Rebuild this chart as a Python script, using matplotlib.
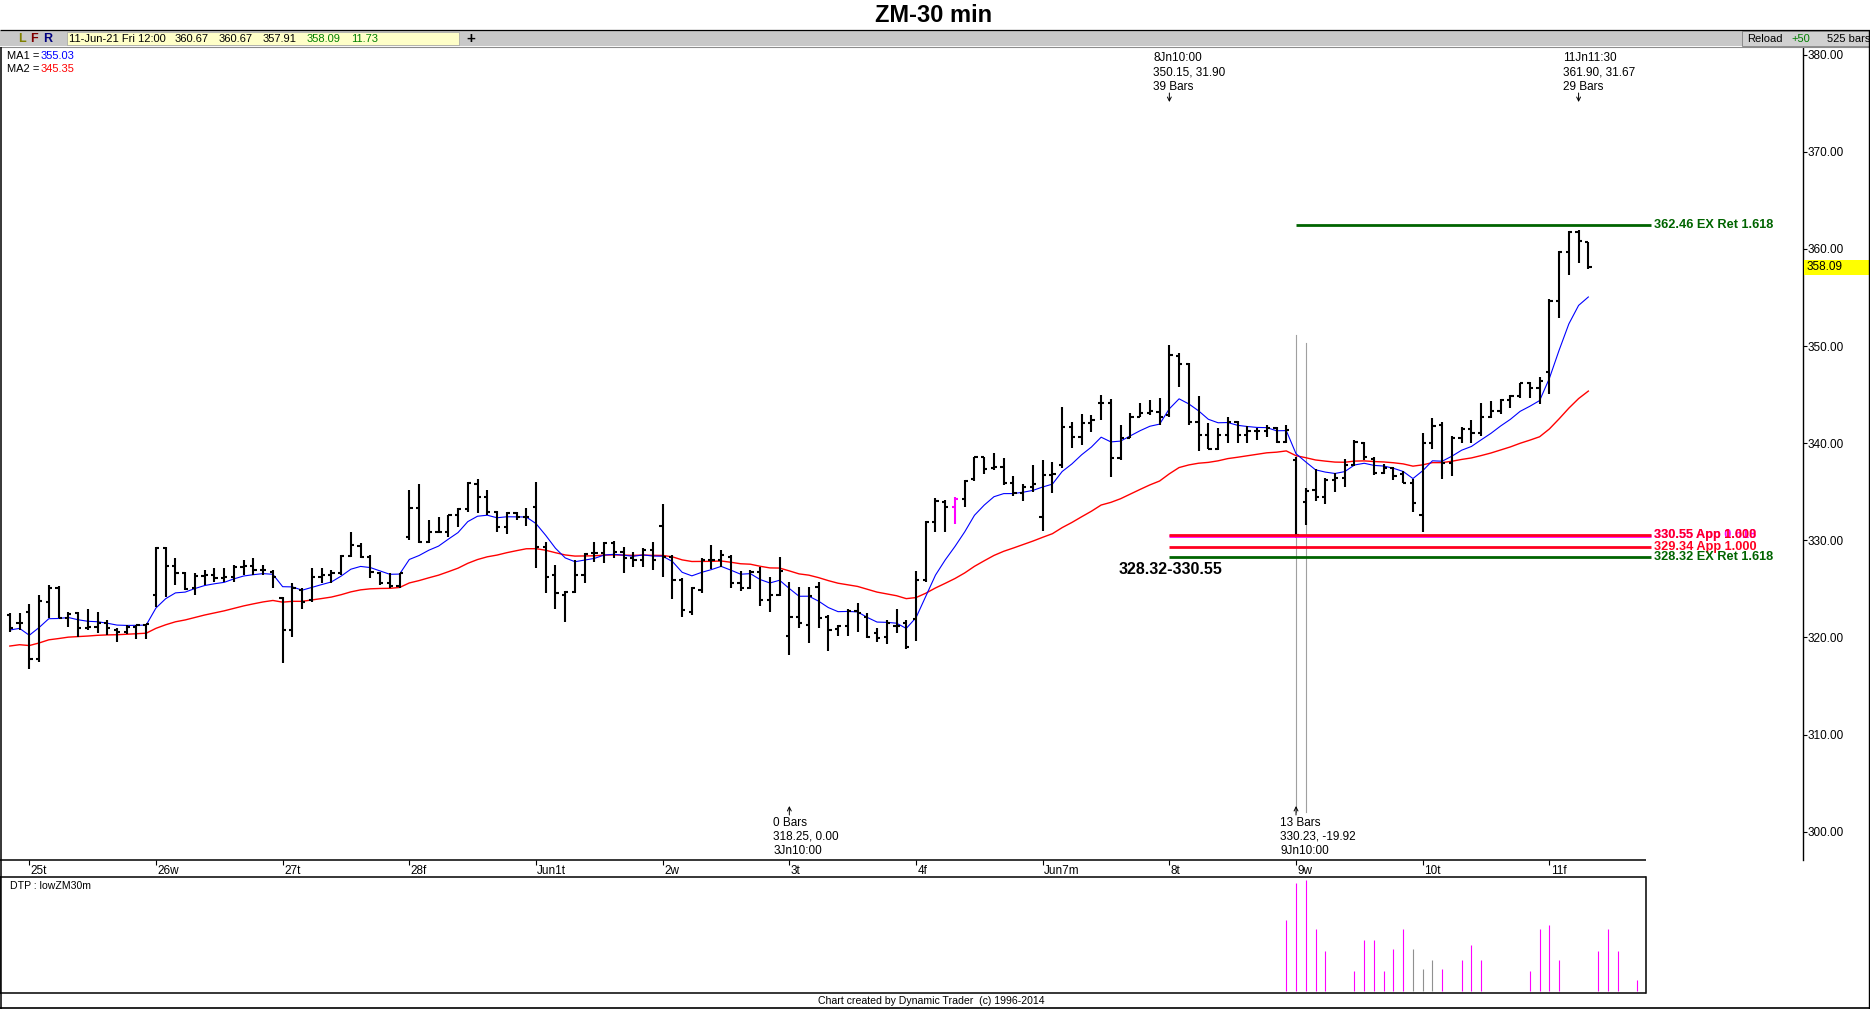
import numpy as np
import matplotlib
matplotlib.use("Agg")
import matplotlib.pyplot as plt
from matplotlib.collections import LineCollection
from matplotlib.lines import Line2D
from matplotlib.patches import Rectangle, FancyArrowPatch
from matplotlib import font_manager
import matplotlib.transforms as mtransforms

# ------------------------------------------------------------------ data
title = "ZM-30 min"

opens = [322.32, 321.53, 322.66, 317.75, 323.69, 325.13, 322.04, 322.49, 321.01, 321.12,
         321.46, 320.77, 320.60, 321.12, 321.29, 324.37, 329.18, 327.36, 326.67, 325.06,
         326.33, 326.43, 326.09, 326.26, 327.29, 327.36, 326.95, 326.78, 324.03, 320.77,
         324.89, 323.86, 326.19, 326.43, 326.67, 328.42, 329.42, 328.32, 326.67, 325.64,
         325.30, 330.38, 333.30, 329.86, 330.89, 330.89, 332.61, 333.19, 335.80, 334.43,
         332.95, 331.41, 332.78, 332.44, 333.47, 329.35, 326.43, 324.37, 324.71, 326.43,
         328.73, 328.73, 329.69, 328.83, 328.14, 327.97, 329.00, 331.47, 328.32, 325.91,
         322.65, 324.88, 327.97, 327.97, 328.32, 325.64, 325.06, 326.77, 323.85, 324.37,
         320.15, 322.07, 321.28, 325.23, 322.07, 320.84, 321.18, 322.76, 322.07, 320.42,
         320.08, 321.18, 321.45, 321.86, 325.91, 331.92, 333.98, 333.39, 334.22, 336.28,
         338.54, 337.41, 337.51, 335.86, 334.83, 335.52, 332.36, 336.72, 337.75, 341.63,
         340.60, 342.11, 344.17, 344.17, 338.44, 340.50, 342.73, 343.14, 343.24, 342.90,
         348.97, 348.15, 342.21, 340.84, 339.43, 340.84, 342.21, 340.84, 341.29, 341.29,
         341.53, 340.15, 338.30, 333.98, 335.18, 334.42, 336.21, 336.38, 337.75, 340.05,
         338.33, 336.96, 337.41, 336.83, 335.93, 332.61, 340.05, 341.87, 337.99, 340.50,
         341.42, 341.01, 342.73, 343.34, 344.44, 344.85, 346.16, 345.64, 347.36, 354.67,
         359.71, 361.77, 360.67]
highs = [322.56, 322.49, 323.45, 324.37, 325.40, 325.30, 322.59, 322.66, 322.93, 322.66,
         321.80, 320.94, 321.29, 321.29, 321.39, 329.35, 329.35, 328.15, 326.78, 326.60,
         326.95, 327.12, 327.12, 327.46, 327.98, 328.15, 327.46, 326.90, 324.20, 325.64,
         325.06, 327.12, 327.12, 326.95, 328.49, 330.89, 329.69, 328.49, 326.78, 326.60,
         326.60, 335.18, 335.80, 332.09, 332.44, 332.61, 333.30, 336.04, 336.28, 335.18,
         333.00, 332.95, 332.95, 333.30, 336.04, 329.86, 327.46, 324.82, 327.97, 328.73,
         329.86, 329.86, 329.96, 329.34, 328.83, 329.17, 329.86, 333.74, 328.49, 326.08,
         325.23, 328.14, 329.52, 329.00, 328.49, 326.87, 326.94, 327.29, 326.26, 328.25,
         325.74, 325.23, 325.23, 325.74, 322.31, 321.28, 322.89, 323.51, 322.48, 320.94,
         321.80, 322.89, 321.80, 326.87, 332.02, 334.32, 334.15, 334.42, 336.21, 338.60,
         338.60, 338.95, 338.44, 336.62, 335.79, 337.75, 338.27, 338.09, 343.69, 342.21,
         342.97, 342.90, 344.96, 344.51, 341.87, 343.07, 344.17, 344.44, 344.61, 350.15,
         349.25, 348.22, 344.85, 342.11, 341.53, 342.66, 342.31, 341.77, 341.53, 341.87,
         341.70, 341.87, 338.60, 335.35, 337.31, 336.38, 336.89, 338.33, 340.32, 340.15,
         338.60, 337.86, 337.58, 337.17, 336.28, 341.01, 342.56, 342.21, 340.74, 341.70,
         342.38, 344.17, 344.37, 344.50, 344.96, 346.23, 346.33, 346.84, 354.80, 359.81,
         361.85, 361.90, 360.67]
lows = [320.60, 320.77, 316.72, 317.51, 321.97, 321.97, 321.12, 320.08, 320.77, 320.43,
        320.26, 319.50, 320.36, 319.84, 319.84, 323.17, 324.20, 325.40, 324.89, 324.37,
        325.40, 325.75, 325.75, 325.75, 326.43, 326.43, 326.43, 325.06, 317.41, 320.08,
        322.90, 323.69, 325.58, 325.58, 326.43, 328.32, 328.15, 326.09, 325.40, 325.06,
        325.06, 330.04, 329.69, 329.69, 330.72, 330.38, 331.41, 332.95, 332.78, 332.61,
        330.89, 330.65, 332.09, 331.48, 327.12, 324.55, 322.90, 321.62, 324.54, 325.64,
        327.80, 327.70, 328.14, 326.67, 327.29, 327.22, 326.94, 326.26, 323.92, 322.14,
        322.31, 324.61, 327.01, 327.22, 325.06, 324.82, 324.95, 323.24, 322.65, 324.27,
        318.25, 320.94, 319.46, 320.94, 318.64, 320.15, 320.15, 320.60, 319.91, 319.57,
        319.33, 320.42, 318.78, 319.67, 325.74, 330.89, 330.89, 331.68, 333.46, 336.14,
        336.82, 337.24, 335.69, 334.56, 334.08, 335.01, 330.99, 334.83, 337.41, 339.47,
        339.81, 341.18, 342.38, 336.55, 338.27, 340.50, 342.73, 342.90, 341.87, 342.66,
        345.81, 341.87, 339.23, 339.36, 339.30, 340.05, 339.98, 340.05, 340.32, 340.67,
        340.05, 340.05, 330.23, 331.58, 334.08, 333.74, 335.01, 335.52, 337.65, 338.27,
        336.72, 336.83, 336.21, 335.93, 332.95, 330.89, 339.36, 336.28, 336.62, 340.05,
        340.05, 340.74, 342.60, 343.00, 343.58, 344.61, 344.61, 344.03, 345.06, 352.85,
        357.31, 358.51, 357.91]
closes = [321.01, 321.53, 317.75, 323.79, 325.13, 322.04, 322.42, 321.01, 321.12, 321.46,
          320.94, 320.60, 321.12, 321.29, 321.39, 329.18, 327.36, 326.67, 324.96, 326.33,
          326.43, 326.16, 326.19, 327.29, 327.36, 326.95, 326.95, 326.26, 320.77, 325.13,
          323.69, 326.19, 326.43, 326.67, 328.42, 329.52, 328.32, 326.78, 325.64, 325.30,
          326.60, 333.30, 329.86, 330.89, 330.89, 332.61, 333.19, 335.87, 334.43, 332.95,
          331.41, 332.78, 332.37, 332.37, 329.35, 326.26, 324.55, 324.71, 326.43, 328.59,
          328.73, 329.69, 328.83, 328.14, 327.97, 329.00, 327.97, 328.32, 325.91, 322.83,
          325.06, 327.97, 327.97, 328.49, 325.57, 325.06, 326.77, 323.85, 324.37, 326.87,
          322.07, 321.45, 324.27, 321.97, 320.77, 321.18, 322.76, 322.48, 320.08, 319.91,
          321.45, 321.18, 319.05, 325.91, 331.92, 334.08, 333.46, 334.22, 336.14, 338.54,
          337.30, 337.51, 335.93, 334.83, 335.45, 335.79, 336.72, 336.82, 341.63, 340.60,
          342.11, 342.38, 344.17, 338.44, 340.50, 342.66, 343.14, 343.34, 342.73, 349.07,
          348.15, 342.21, 340.84, 339.43, 340.84, 342.21, 340.84, 341.29, 341.29, 341.53,
          340.15, 341.35, 330.60, 335.11, 334.42, 336.21, 336.38, 337.75, 340.15, 338.54,
          336.96, 337.41, 336.62, 335.93, 333.81, 339.98, 341.77, 337.99, 340.50, 341.42,
          341.01, 342.73, 343.34, 344.44, 344.85, 346.16, 345.64, 346.43, 354.67, 359.71,
          361.77, 360.84, 358.09]

day_labels = ["25t", "26w", "27t", "28f", "Jun1t", "2w", "3t", "4f", "Jun7m", "8t", "9w", "10t", "11f"]
day_first_bar = [2, 15, 28, 41, 54, 67, 80, 93, 106, 119, 132, 145, 158]
highlight_bar = 97

ma1_start, ma2_start = 320.77, 319.12
ma1_period, ma2_period = 8, 34
ma1_text, ma2_text = "355.03", "345.35"

price_ticks = [300, 310, 320, 330, 340, 350, 360, 370, 380]

level_prices = [362.46, 330.55, 330.55, 329.34, 328.32]
level_labels = ["362.46 EX Ret 1.618", "330.55 App 0.618", "330.55 App 1.000",
                "329.34 App 1.000", "328.32 EX Ret 1.618"]
level_colors = ["#006400", "#ff00ff", "#ff0020", "#ff0020", "#006400"]
level_start_bar = [132, 119, 119, 119, 119]
zone_label = "328.32-330.55"

gray_line_bars = [132, 133]
gray_line_tops = [351.1, 350.3]
gray_line_bottom = 302.0

top_notes = [("8Jn10:00", "350.15, 31.90", "39 Bars"), ("11Jn11:30", "361.90, 31.67", "29 Bars")]
top_note_bars = [119, 161]
bottom_notes = [("0 Bars", "318.25, 0.00", "3Jn10:00"), ("13 Bars", "330.23, -19.92", "9Jn10:00")]
bottom_note_bars = [80, 132]

dtp_bars = [131, 132, 133, 134, 135, 138, 139, 140, 141, 142, 143, 144, 145, 146, 147,
            149, 150, 151, 156, 157, 158, 159, 163, 164, 165, 167]
dtp_values = [7.1, 10.8, 11.1, 6.2, 4.0, 2.0, 5.1, 5.1, 2.0, 4.2, 6.2, 4.2, 2.2, 3.1, 2.2,
              3.1, 4.6, 3.1, 2.0, 6.2, 6.6, 3.1, 4.0, 6.2, 4.0, 1.1]
dtp_gray = [144, 145, 146]

info_date = "11-Jun-21 Fri 12:00"
info_change = "11.73"

# ------------------------------------------------------------------ fonts
def has_font(name):
    try:
        font_manager.findfont(font_manager.FontProperties(family=name), fallback_to_default=False)
        return True
    except Exception:
        return False

REG = "Liberation Sans" if has_font("Liberation Sans") else "DejaVu Sans"
HAS_NARROW = has_font("Liberation Sans Narrow")
NARROW = "Liberation Sans Narrow" if HAS_NARROW else REG
plt.rcParams["font.family"] = [REG, "DejaVu Sans"]

LEVEL_FS = 11 if HAS_NARROW else 9.2
SMALL_NARROW_FS = 8.5 if HAS_NARROW else 7.6

# ------------------------------------------------------------------ geometry
W, H = 1870, 1009
fig = plt.figure(figsize=(W / 100, H / 100), dpi=100)
fig.patch.set_facecolor("white")

def fx(px):
    return px / W

def fy(py):
    return 1.0 - py / H

X0_PX, BAR_PX = 29.3, 9.744

def bar_to_px(i):
    return X0_PX + BAR_PX * (i - 2)

def px_to_bar(px):
    return (px - X0_PX) / BAR_PX + 2

MAIN_TOP, MAIN_BOT = 47.0, 859.5
AXIS_RIGHT = 1803.0
PANEL_RIGHT = 1645.5
Y_REF_PX, Y_REF_P, PX_PER_UNIT = 225.0, 362.46, 9.715

def px_to_price(py):
    return Y_REF_P - (py - Y_REF_PX) / PX_PER_UNIT

def fig_line(x0, y0, x1, y1, color="black", lw=1.0):
    fig.add_artist(Line2D([fx(x0), fx(x1)], [fy(y0), fy(y1)], color=color, lw=lw,
                          transform=fig.transFigure, solid_capstyle="butt"))

def fig_arrow(xpx, y_from, y_to):
    fig.add_artist(FancyArrowPatch((fx(xpx), fy(y_from)), (fx(xpx), fy(y_to)),
                                   transform=fig.transFigure, arrowstyle="->",
                                   mutation_scale=7, lw=0.7, color="black",
                                   shrinkA=0, shrinkB=0))

# ------------------------------------------------------------------ header
fig.text(fx(934), fy(16), title, ha="center", va="center", fontsize=17,
         fontweight="bold", family=[REG, "DejaVu Sans"])
fig_line(0, 30, W, 30, lw=0.9)
fig.add_artist(Rectangle((0, fy(46)), 1, fy(31) - fy(46), transform=fig.transFigure,
                         facecolor="#c8c8c8", edgecolor="none"))
fig_line(0, 46.5, W, 46.5, color="#8c8c8c", lw=0.8)
for lab, col, px in zip(["L", "F", "R"], ["#808000", "#800000", "#000080"], [17.8, 30.5, 43.5]):
    fig.text(fx(px), fy(38.5), lab, ha="left", va="center", fontsize=9, color=col, fontweight="bold")
fig.add_artist(Rectangle((fx(67), fy(45)), fx(459) - fx(67), fy(32) - fy(45),
                         transform=fig.transFigure, facecolor="#ffffc8", edgecolor="#a0a0a0", lw=0.5))
info_vals = [f"{opens[-1]:.2f}", f"{highs[-1]:.2f}", f"{lows[-1]:.2f}", f"{closes[-1]:.2f}", info_change]
info_cols = ["black", "black", "black", "#008000", "#008000"]
fig.text(fx(69), fy(38.5), info_date, ha="left", va="center", fontsize=8, color="black")
for v, c, px in zip(info_vals, info_cols, [175, 218.6, 263, 307, 351]):
    fig.text(fx(px), fy(38.5), v, ha="left", va="center", fontsize=8, color=c)
fig.text(fx(471), fy(38.5), "+", ha="center", va="center", fontsize=11, fontweight="bold")
fig.add_artist(Rectangle((fx(1741.7), fy(45.7)), fx(1869) - fx(1741.7), fy(31) - fy(45.7),
                         transform=fig.transFigure, facecolor="#d0d0d0", edgecolor="#808080", lw=0.6))
fig.text(fx(1746.7), fy(38.5), "Reload", ha="left", va="center", fontsize=8)
fig.text(fx(1791.7), fy(38.5), "+50", ha="left", va="center", fontsize=8, color="#008000")
fig.text(fx(1826.7), fy(38.5), "525 bars", ha="left", va="center", fontsize=8)

fig.text(fx(7), fy(55.7), "MA1 =", ha="left", va="center", fontsize=8)
fig.text(fx(41), fy(55.7), ma1_text, ha="left", va="center", fontsize=8, color="#0000ff")
fig.text(fx(7), fy(68.7), "MA2 =", ha="left", va="center", fontsize=8)
fig.text(fx(41), fy(68.7), ma2_text, ha="left", va="center", fontsize=8, color="#ff0000")

# ------------------------------------------------------------------ main price panel
ax = fig.add_axes([0, fy(MAIN_BOT), fx(AXIS_RIGHT), (MAIN_BOT - MAIN_TOP) / H])
ax.set_facecolor("none")
ax.set_xlim(px_to_bar(0), px_to_bar(AXIS_RIGHT))
ax.set_ylim(px_to_price(MAIN_BOT), px_to_price(MAIN_TOP))
for s in ["top", "left", "bottom"]:
    ax.spines[s].set_visible(False)
ax.spines["right"].set_linewidth(1.0)
ax.set_xticks([])
ax.yaxis.tick_right()
ax.set_yticks(price_ticks)
ax.set_yticklabels([f"{t:.2f}" for t in price_ticks])
ax.tick_params(axis="y", direction="out", length=3, width=0.8, pad=0.5, labelsize=8.5)

n = len(closes)
idx = np.arange(n)

def ema(values, period, start):
    a = 2.0 / (period + 1)
    out = [start]
    for v in values[1:]:
        out.append(out[-1] + a * (v - out[-1]))
    return np.array(out)

ma1 = ema(closes, ma1_period, ma1_start)
ma2 = ema(closes, ma2_period, ma2_start)
ax.plot(idx, ma2, color="#ff0000", lw=1.0, zorder=2)
ax.plot(idx, ma1, color="#0000ff", lw=0.8, zorder=2)

segs, cols = [], []
for i, (o, h, l, c) in enumerate(zip(opens, highs, lows, closes)):
    col = "#ff00ff" if i == highlight_bar else "black"
    segs += [[(i, l), (i, h)], [(i - 0.33, o), (i, o)], [(i, c), (i + 0.33, c)]]
    cols += [col, col, col]
ax.add_collection(LineCollection(segs, colors=cols, linewidths=1.5, capstyle="butt", zorder=3))

# levels
end_bar = px_to_bar(1651)
label_bar = px_to_bar(1654)
shift = mtransforms.ScaledTranslation(0, -0.9 / 72, fig.dpi_scale_trans)
order = [1, 0, 2, 3, 4]
for k in order:
    p, lab, col, sb = level_prices[k], level_labels[k], level_colors[k], level_start_bar[k]
    tr = ax.transData + shift if col == "#ff00ff" else ax.transData
    ax.plot([sb, end_bar], [p, p], color=col, lw=2.0, transform=tr, zorder=4,
            solid_capstyle="butt")
    ax.text(label_bar, p, lab, color=col, fontsize=LEVEL_FS, fontweight="bold",
            family=[NARROW, REG], ha="left", va="center", clip_on=False, zorder=5)

fig.text(fx(1119), fy(570), zone_label, ha="left", va="center", fontsize=11.5,
         fontweight="bold", color="black")

for b, top in zip(gray_line_bars, gray_line_tops):
    ax.plot([b, b], [gray_line_bottom, top], color="#a0a0a0", lw=0.8, zorder=1)

# annotations
for lines, b in zip(top_notes, top_note_bars):
    xpx = bar_to_px(b)
    for t, ypx in zip(lines, [58.3, 72.7, 86.7]):
        fig.text(fx(xpx - 16), fy(ypx), t, ha="left", va="center", fontsize=8.5)
    fig_arrow(xpx, 93, 102)
for lines, b in zip(bottom_notes, bottom_note_bars):
    xpx = bar_to_px(b)
    for t, ypx in zip(lines, [822.7, 836.7, 850.7]):
        fig.text(fx(xpx - 16), fy(ypx), t, ha="left", va="center", fontsize=8.5)
    fig_arrow(xpx, 815, 806)

# current price box
bt = mtransforms.blended_transform_factory(fig.transFigure, ax.transData)
half = 7.5 / PX_PER_UNIT
ax.add_patch(Rectangle((fx(1804), closes[-1] - half), fx(W) - fx(1804), 2 * half,
                       transform=bt, facecolor="#ffff00", edgecolor="none", clip_on=False, zorder=5))
ax.text(fx(1807), closes[-1], f"{closes[-1]:.2f}", transform=bt, ha="left", va="center",
        fontsize=8.5, clip_on=False, zorder=6)

# ------------------------------------------------------------------ date strip
fig_line(0, MAIN_BOT, PANEL_RIGHT, MAIN_BOT, lw=1.1)
for lab, b in zip(day_labels, day_first_bar):
    xpx = bar_to_px(b)
    fig_line(xpx, MAIN_BOT, xpx, 864.5, lw=0.8)
    fig.text(fx(xpx + 1.3), fy(870.7), lab, ha="left", va="center", fontsize=8.5)

# ------------------------------------------------------------------ lower DTP panel
ax2 = fig.add_axes([0, fy(992.7), fx(PANEL_RIGHT), (992.7 - 877.3) / H])
ax2.set_xlim(px_to_bar(0), px_to_bar(PANEL_RIGHT))
ax2.set_ylim(-0.17, 11.37)
ax2.set_xticks([])
ax2.set_yticks([])
for s in ax2.spines.values():
    s.set_linewidth(1.1)
dcols = ["#909090" if b in dtp_gray else "#ff00ff" for b in dtp_bars]
ax2.vlines(dtp_bars, 0, dtp_values, colors=dcols, lw=0.8)
fig.text(fx(9.6), fy(885.7), "DTP : lowZM30m", ha="left", va="center", fontsize=SMALL_NARROW_FS,
         family=[NARROW, REG])

# ------------------------------------------------------------------ frame + footer
fig_line(0.7, MAIN_TOP, 0.7, H, lw=1.1)
fig_line(W - 1, 30, W - 1, H, lw=1.0)
fig_line(0, H - 0.8, W, H - 0.8, lw=1.2)
fig.text(fx(818), fy(1000.5), "Chart created by Dynamic Trader  (c) 1996-2014", ha="left",
         va="center", fontsize=SMALL_NARROW_FS, family=[NARROW, REG])

fig.savefig("out.png", dpi=100, facecolor="white")
